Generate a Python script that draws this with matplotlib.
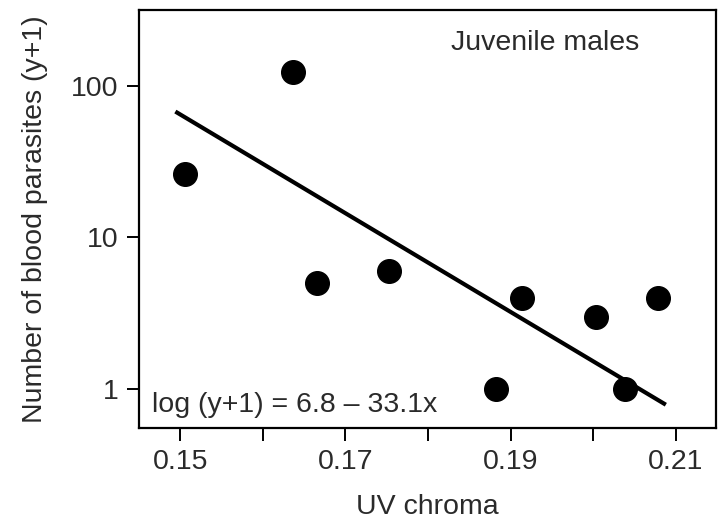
import matplotlib.pyplot as plt
from matplotlib.ticker import FixedLocator, NullLocator
import numpy as np

plt.rcParams['font.family'] = ['Liberation Sans', 'DejaVu Sans']

# UV chroma vs number of blood parasites (y+1), juvenile males
uv_chroma = [0.1506, 0.1637, 0.1666, 0.1753, 0.1882, 0.1914, 0.2004, 0.2039, 0.2079]
parasites = [26, 124, 5, 6, 1, 4, 3, 1, 4]

# regression line as drawn: log10(y+1) = intercept + slope * x
intercept = 6.694
slope = -32.56
fit_range = [0.1494, 0.2088]
equation = 'log (y+1) = 6.8 \u2013 33.1x'

fig = plt.figure(figsize=(7.26, 5.25), dpi=100)
ax = fig.add_axes([0.1915, 0.185, 0.795, 0.796])

fx = np.array(fit_range)
ax.plot(fx, 10 ** (intercept + slope * fx), color='black', lw=3, solid_capstyle='butt')
ax.plot(uv_chroma, parasites, 'o', color='black', ms=17)

ax.set_yscale('log')
ax.set_xlim(0.145, 0.2149)
ax.set_ylim(0.553, 316)

ax.set_yticks([1, 10, 100])
ax.set_yticklabels(['1', '10', '100'])
ax.yaxis.set_minor_locator(NullLocator())
ax.set_xticks([0.15, 0.17, 0.19, 0.21])
ax.set_xticklabels(['0.15', '0.17', '0.19', '0.21'])
ax.xaxis.set_minor_locator(FixedLocator([0.16, 0.18, 0.20]))

for s in ax.spines.values():
    s.set_linewidth(1.6)
ax.tick_params(which='both', direction='out', length=9, width=1.4, labelsize=20.5,
               labelcolor='#2a2a2a', pad=6)

ax.set_xlabel('UV chroma', fontsize=20.5, color='#2a2a2a', labelpad=14)
ax.set_ylabel('Number of blood parasites (y+1)', fontsize=20.5, color='#2a2a2a', labelpad=16)

ax.text(0.704, 0.92, 'Juvenile males', transform=ax.transAxes, ha='center', va='center',
        fontsize=20.5, color='#2a2a2a')
ax.text(0.022, 0.055, equation, transform=ax.transAxes, ha='left',
        va='center', fontsize=20.5, color='#2a2a2a')

fig.savefig('out.png', dpi=100)
